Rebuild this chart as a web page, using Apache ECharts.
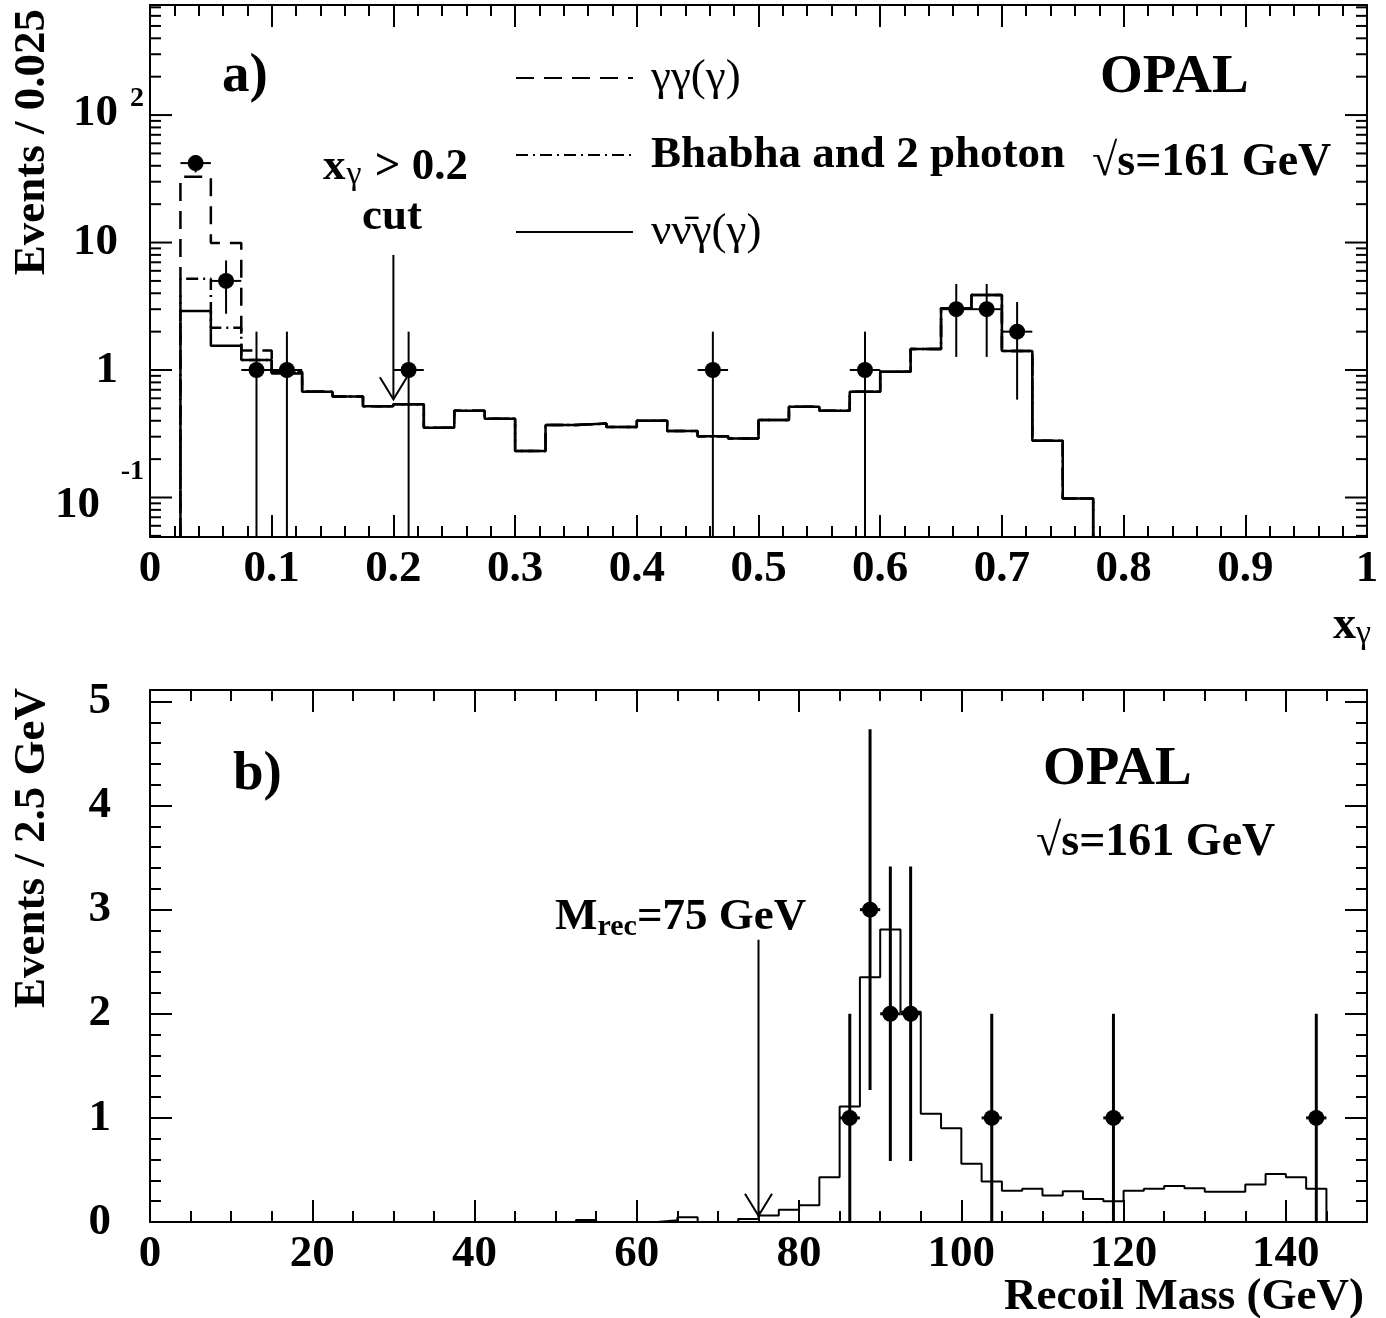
<!DOCTYPE html>
<html><head><meta charset="utf-8">
<script src="https://cdn.jsdelivr.net/npm/echarts@6/dist/echarts.min.js"></script>
<style>html,body{margin:0;padding:0;background:#fff}#c{width:1386px;height:1318px}</style>
</head><body><div id="c"></div>
<script>
// ================= DATA =================
// Panel a) : x_gamma distribution, bins of 0.025 starting at 0.025
const xgStart = 0.025;
const xgBinWidth = 0.025;
const ggG = [32.8, 9.9, 1.42, 0.97, 0.68, 0.62, 0.52, 0.54, 0.353, 0.48, 0.415, 0.232, 0.37, 0.38, 0.357, 0.40, 0.332, 0.303, 0.29, 0.405, 0.515, 0.48, 0.675, 0.97, 1.46, 3.05, 3.87, 1.41, 0.279, 0.098];
const bhabha2g = [5.2, 2.15, 1.2, 0.95, 0.675, 0.62, 0.52, 0.54, 0.353, 0.48, 0.415, 0.232, 0.37, 0.38, 0.357, 0.40, 0.332, 0.303, 0.29, 0.405, 0.515, 0.48, 0.675, 0.97, 1.46, 3.05, 3.87, 1.41, 0.279, 0.098];
const nunuG = [2.9, 1.55, 1.2, 0.94, 0.675, 0.62, 0.52, 0.54, 0.353, 0.48, 0.415, 0.232, 0.37, 0.38, 0.357, 0.40, 0.332, 0.303, 0.29, 0.405, 0.515, 0.48, 0.675, 0.97, 1.46, 3.05, 3.87, 1.41, 0.279, 0.098];
const dataXg = [0.0375, 0.0625, 0.0875, 0.1125, 0.2125, 0.4625, 0.5875, 0.6625, 0.6875, 0.7125];
const dataXgCounts = [42, 5, 1, 1, 1, 1, 1, 3, 3, 2];
const logMajorTicks = [0.1, 1, 10, 100];
const logMinorTicks = [0.05,0.06,0.07,0.08,0.09,0.2,0.3,0.4,0.5,0.6,0.7,0.8,0.9,2,3,4,5,6,7,8,9,20,30,40,50,60,70,80,90,200,300,400,500,600,700];
const logLabelBase = ['10', '1', '10', '10'];
const logLabelExp = ['-1', '', '', '2'];
const cutXg = 0.2, cutXgTop = 8.0, cutXgTip = 0.59;

// Panel b) : recoil mass, bins of 2.5 GeV from 0 to 145
const mStart = 0;
const mBinWidth = 2.5;
const recoilMC = [0,0,0,0,0,0,0,0,0,0, 0,0,0,0,0,0,0,0,0,0, 0,0.02,0,0,0,0.017,0.046,0,0,0.03,
  0.062,0.117,0.16,0.43,1.11,2.35,2.81,2.02,1.04,0.90, 0.56,0.39,0.30,0.32,0.254,0.295,0.222,0.20,0.30,0.32,
  0.345,0.324,0.29,0.29,0.36,0.46,0.43,0.32];
const dataM = [86.25, 88.75, 91.25, 93.75, 103.75, 118.75, 143.75];
const dataMCounts = [1, 3, 2, 2, 1, 1, 1];
const cutM = 75, cutMTop = 2.71, cutMTip = 0.06;

// ================= HELPERS =================
const FF = 'Liberation Serif';
const yMinA = 0.049, yMaxA = 730;
const yMaxB = 5.11;
function r6(v){ return +v.toFixed(6); }
function histPoints(start, w, vals, floor){
  const pts = [[start, floor]];
  vals.forEach((v, i) => pts.push([r6(start + i*w), Math.max(v, floor)]));
  const end = r6(start + vals.length*w);
  pts.push([end, Math.max(vals[vals.length-1], floor)]);
  pts.push([end, floor]);
  return pts;
}
function errData(xs, ns, hw){
  return xs.map((x, i) => [x, ns[i], ns[i] - Math.sqrt(ns[i]), ns[i] + Math.sqrt(ns[i]), hw]);
}
function errRender(floor, lw){
  return function(params, api){
    const x = api.value(0), y = api.value(1);
    const lo = Math.max(api.value(2), floor), hi = api.value(3), hw = api.value(4);
    const a = api.coord([x, lo]), b = api.coord([x, hi]);
    const l = api.coord([x - hw, y]), r = api.coord([x + hw, y]);
    const st = {stroke:'#000', lineWidth: lw};
    return {type:'group', children:[
      {type:'line', shape:{x1:a[0], y1:a[1], x2:b[0], y2:b[1]}, style:st},
      {type:'line', shape:{x1:l[0], y1:l[1], x2:r[0], y2:r[1]}, style:st}
    ]};
  };
}
function arrowRender(params, api){
  const x = api.value(0);
  const t = api.coord([x, api.value(1)]), p = api.coord([x, api.value(2)]);
  const st = {stroke:'#000', lineWidth: 2};
  return {type:'group', children:[
    {type:'line', shape:{x1:t[0], y1:t[1], x2:p[0], y2:p[1]}, style:st},
    {type:'polyline', shape:{points:[[p[0]-13.5, p[1]-22],[p[0], p[1]],[p[0]+13.5, p[1]-22]]}, style:{stroke:'#000', lineWidth:2, fill:null}}
  ]};
}
const tickStyle = {color:'#000', width:2};
const axLine = {show:true, onZero:false, lineStyle:{color:'#000', width:2}};
const lblStyle = {fontFamily:FF, fontWeight:'bold', fontSize:45, color:'#000'};

// ================= OPTION =================
const option = {
  animation: false,
  backgroundColor: '#fff',
  grid: [
    {left:150, top:5, width:1217, height:532},
    {left:150, top:690, width:1217, height:532}
  ],
  xAxis: [
    {type:'value', gridIndex:0, position:'bottom', min:0, max:1, interval:0.1, axisLine:axLine,
     axisTick:{inside:true, length:22, lineStyle:tickStyle},
     minorTick:{show:true, splitNumber:5, length:11, lineStyle:tickStyle},
     axisLabel:Object.assign({margin:10}, lblStyle), splitLine:{show:false}},
    {type:'value', gridIndex:0, position:'top', min:0, max:1, interval:0.1, axisLine:axLine,
     axisTick:{inside:true, length:22, lineStyle:tickStyle},
     minorTick:{show:true, splitNumber:5, length:11, lineStyle:tickStyle},
     axisLabel:{show:false}, splitLine:{show:false}},
    {type:'value', gridIndex:1, position:'bottom', min:0, max:150, interval:20, axisLine:axLine,
     axisTick:{inside:true, length:22, lineStyle:tickStyle},
     axisLabel:Object.assign({margin:10, showMaxLabel:false}, lblStyle), splitLine:{show:false}},
    {type:'value', gridIndex:1, position:'top', min:0, max:150, interval:20, axisLine:axLine,
     axisTick:{inside:true, length:22, lineStyle:tickStyle},
     axisLabel:{show:false}, splitLine:{show:false}},
    {type:'value', gridIndex:1, position:'bottom', min:0, max:150, interval:5, axisLine:{show:false, onZero:false},
     axisTick:{inside:true, length:11, lineStyle:tickStyle},
     axisLabel:{show:false}, splitLine:{show:false}},
    {type:'value', gridIndex:1, position:'top', min:0, max:150, interval:5, axisLine:{show:false, onZero:false},
     axisTick:{inside:true, length:11, lineStyle:tickStyle},
     axisLabel:{show:false}, splitLine:{show:false}}
  ],
  yAxis: [
    {type:'log', gridIndex:0, position:'left', min:yMinA, max:yMaxA, axisLine:axLine,
     axisTick:{show:false}, axisLabel:{show:false}, splitLine:{show:false}},
    {type:'log', gridIndex:0, position:'right', min:yMinA, max:yMaxA, axisLine:axLine,
     axisTick:{show:false}, axisLabel:{show:false}, splitLine:{show:false}},
    {type:'value', gridIndex:1, position:'left', min:0, max:yMaxB, interval:1, axisLine:axLine,
     axisTick:{inside:true, length:22, lineStyle:tickStyle},
     axisLabel:Object.assign({margin:39, showMaxLabel:false}, lblStyle), splitLine:{show:false}},
    {type:'value', gridIndex:1, position:'right', min:0, max:yMaxB, interval:1, axisLine:axLine,
     axisTick:{inside:true, length:22, lineStyle:tickStyle},
     axisLabel:{show:false}, splitLine:{show:false}},
    {type:'value', gridIndex:1, position:'left', min:0, max:yMaxB, interval:0.2, axisLine:{show:false, onZero:false},
     axisTick:{inside:true, length:11, lineStyle:tickStyle},
     axisLabel:{show:false}, splitLine:{show:false}},
    {type:'value', gridIndex:1, position:'right', min:0, max:yMaxB, interval:0.2, axisLine:{show:false, onZero:false},
     axisTick:{inside:true, length:11, lineStyle:tickStyle},
     axisLabel:{show:false}, splitLine:{show:false}}
  ],
  legend: {
    orient:'vertical', left:515, top:53, padding:0, itemWidth:117, itemHeight:20, itemGap:27,
    selectedMode:false,
    itemStyle:{opacity:0, borderWidth:0},
    data:['γγ(γ)', 'Bhabha and 2 photon', 'νν̄γ(γ)'],
    formatter: function(name){ return name === 'Bhabha and 2 photon' ? '{b|' + name + '}' : '{n|' + name + '}'; },
    textStyle:{color:'#000', fontFamily:FF, fontSize:45, lineHeight:50,
      rich:{
        b:{fontFamily:FF, fontSize:45, fontWeight:'bold', color:'#000', padding:[0,0,0,13], lineHeight:50},
        n:{fontFamily:FF, fontSize:45, fontWeight:'normal', color:'#000', padding:[0,0,0,13], lineHeight:50}
      }}
  },
  series: [
    {name:'γγ(γ)', type:'line', xAxisIndex:0, yAxisIndex:0, step:'end', symbol:'none', clip:false, z:2,
     lineStyle:{color:'#000', width:2.5, type:[18,10]}, itemStyle:{color:'#000'},
     data: histPoints(xgStart, xgBinWidth, ggG, yMinA)},
    {name:'Bhabha and 2 photon', type:'line', xAxisIndex:0, yAxisIndex:0, step:'end', symbol:'none', clip:false, z:2,
     lineStyle:{color:'#000', width:2.5, type:[12,5,2,5]}, itemStyle:{color:'#000'},
     data: histPoints(xgStart, xgBinWidth, bhabha2g, yMinA)},
    {name:'νν̄γ(γ)', type:'line', xAxisIndex:0, yAxisIndex:0, step:'end', symbol:'none', clip:false, z:3,
     lineStyle:{color:'#000', width:2.5, type:'solid'}, itemStyle:{color:'#000'},
     data: histPoints(xgStart, xgBinWidth, nunuG, yMinA)},
    {name:'errA', type:'custom', xAxisIndex:0, yAxisIndex:0, clip:false, z:4,
     renderItem: errRender(yMinA, 2), data: errData(dataXg, dataXgCounts, xgBinWidth/2)},
    {name:'dataA', type:'scatter', xAxisIndex:0, yAxisIndex:0, symbol:'circle', symbolSize:16, z:5,
     itemStyle:{color:'#000', opacity:1}, data: dataXg.map((x, i) => [x, dataXgCounts[i]])},
    {name:'logTicks', type:'custom', xAxisIndex:0, yAxisIndex:0, clip:false, z:6,
     renderItem: function(params, api){
       const v = api.value(1), major = api.value(2);
       const len = major ? 22 : 11;
       const pl = api.coord([0, v]), pr = api.coord([1, v]);
       const st = {stroke:'#000', lineWidth:2};
       return {type:'group', children:[
         {type:'line', shape:{x1:pl[0], y1:pl[1], x2:pl[0]+len, y2:pl[1]}, style:st},
         {type:'line', shape:{x1:pr[0], y1:pr[1], x2:pr[0]-len, y2:pr[1]}, style:st}
       ]};
     },
     data: logMajorTicks.map(v => [0, v, 1]).concat(logMinorTicks.map(v => [0, v, 0]))},
    {name:'logLabels', type:'custom', xAxisIndex:0, yAxisIndex:0, clip:false, z:6,
     renderItem: function(params, api){
       const i = api.value(2);
       const p = api.coord([0, api.value(1)]);
       const base = logLabelBase[i], exp = logLabelExp[i];
       const bst = {fontFamily:FF, fontWeight:'bold', fontSize:45, fill:'#000', verticalAlign:'middle', align:'right'};
       const est = {fontFamily:FF, fontWeight:'bold', fontSize:28, fill:'#000', verticalAlign:'middle', align:'right'};
       const ch = [];
       if (exp && exp.charAt(0) === '-') {
         ch.push({type:'text', x:p[0]-50, y:p[1]+8, style:Object.assign({text:base}, bst)});
         ch.push({type:'text', x:p[0]-6, y:p[1]-26, style:Object.assign({text:exp}, est)});
       } else if (exp) {
         ch.push({type:'text', x:p[0]-32, y:p[1]-2, style:Object.assign({text:base}, bst)});
         ch.push({type:'text', x:p[0]-6, y:p[1]-16, style:Object.assign({text:exp}, est)});
       } else {
         ch.push({type:'text', x:p[0]-32, y:p[1], style:Object.assign({text:base}, bst)});
       }
       return {type:'group', children:ch};
     },
     data: logMajorTicks.map((v, i) => [0, v, i])},
    {name:'cutA', type:'custom', xAxisIndex:0, yAxisIndex:0, clip:false, z:6,
     renderItem: arrowRender, data:[[cutXg, cutXgTop, cutXgTip]]},

    {name:'recoilMC', type:'line', xAxisIndex:2, yAxisIndex:2, step:'end', symbol:'none', clip:false, z:2,
     lineStyle:{color:'#000', width:2}, data: histPoints(mStart, mBinWidth, recoilMC, 0)},
    {name:'errB', type:'custom', xAxisIndex:2, yAxisIndex:2, clip:false, z:4,
     renderItem: errRender(0, 3), data: errData(dataM, dataMCounts, mBinWidth/2)},
    {name:'dataB', type:'scatter', xAxisIndex:2, yAxisIndex:2, symbol:'circle', symbolSize:16, z:5,
     itemStyle:{color:'#000', opacity:1}, data: dataM.map((x, i) => [x, dataMCounts[i]])},
    {name:'cutB', type:'custom', xAxisIndex:2, yAxisIndex:2, clip:false, z:6,
     renderItem: arrowRender, data:[[cutM, cutMTop, cutMTip]]}
  ],
  graphic: [
    {type:'text', x:222, y:77, style:{text:'a)', fontFamily:FF, fontWeight:'bold', fontSize:55, fill:'#000', align:'left', verticalAlign:'middle'}},
    {type:'text', x:1100, y:78, style:{text:'OPAL', fontFamily:FF, fontWeight:'bold', fontSize:55, fill:'#000', align:'left', verticalAlign:'middle'}},
    {type:'text', x:1092, y:163, style:{text:'√s=161 GeV', fontFamily:FF, fontWeight:'bold', fontSize:46, fill:'#000', align:'left', verticalAlign:'middle'}},
    {type:'text', x:323, y:167, style:{text:'{m|x}{s|γ}{m| > 0.2}', fill:'#000', align:'left', verticalAlign:'middle',
      rich:{m:{fontFamily:FF, fontWeight:'bold', fontSize:45, lineHeight:50}, s:{fontFamily:FF, fontSize:34, verticalAlign:'bottom', lineHeight:18, padding:[0,2,0,1]}}}},
    {type:'text', x:392, y:217, style:{text:'cut', fontFamily:FF, fontWeight:'bold', fontSize:45, fill:'#000', align:'center', verticalAlign:'middle'}},
    {type:'text', x:1371, y:626, style:{text:'{m|x}{s|γ}', fill:'#000', align:'right', verticalAlign:'middle',
      rich:{m:{fontFamily:FF, fontWeight:'bold', fontSize:46, lineHeight:50}, s:{fontFamily:FF, fontSize:34, verticalAlign:'bottom', lineHeight:18}}}},
    {type:'text', x:32, y:9, rotation:Math.PI/2, style:{text:'Events / 0.025', fontFamily:FF, fontWeight:'bold', fontSize:45, fill:'#000', align:'right', verticalAlign:'middle'}},

    {type:'text', x:233, y:775, style:{text:'b)', fontFamily:FF, fontWeight:'bold', fontSize:55, fill:'#000', align:'left', verticalAlign:'middle'}},
    {type:'text', x:1043, y:770, style:{text:'OPAL', fontFamily:FF, fontWeight:'bold', fontSize:55, fill:'#000', align:'left', verticalAlign:'middle'}},
    {type:'text', x:1036, y:843, style:{text:'√s=161 GeV', fontFamily:FF, fontWeight:'bold', fontSize:46, fill:'#000', align:'left', verticalAlign:'middle'}},
    {type:'text', x:555, y:917, style:{text:'{m|M}{s|rec}{m|=75 GeV}', fill:'#000', align:'left', verticalAlign:'middle',
      rich:{m:{fontFamily:FF, fontWeight:'bold', fontSize:45, lineHeight:50}, s:{fontFamily:FF, fontWeight:'bold', fontSize:30, verticalAlign:'bottom', lineHeight:20}}}},
    {type:'text', x:1364, y:1297, style:{text:'Recoil Mass (GeV)', fontFamily:FF, fontWeight:'bold', fontSize:45, fill:'#000', align:'right', verticalAlign:'middle'}},
    {type:'text', x:32, y:688, rotation:Math.PI/2, style:{text:'Events / 2.5 GeV', fontFamily:FF, fontWeight:'bold', fontSize:45, fill:'#000', align:'right', verticalAlign:'middle'}}
  ]
};
const chart = echarts.init(document.getElementById('c'), null, {renderer:'canvas'});
chart.setOption(option);
</script>
</body></html>
